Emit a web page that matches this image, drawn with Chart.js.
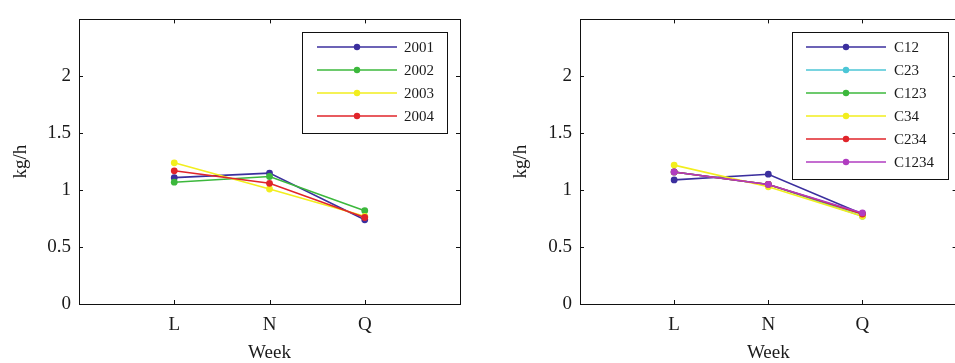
<!DOCTYPE html>
<html>
<head>
<meta charset="utf-8">
<script src="https://cdn.jsdelivr.net/npm/chart.js@4"></script>
<style>
  html, body { margin: 0; padding: 0; background: #fff; overflow: hidden; width: 955px; height: 363px; }
  .panel { position: absolute; top: 0; }
  #p1 { left: 0; }
  #p2 { left: 480px; }
</style>
</head>
<body>
<div class="panel" id="p1"><canvas id="c1" width="480" height="363"></canvas></div>
<div class="panel" id="p2"><canvas id="c2" width="480" height="363"></canvas></div>
<script>
// Data
const weeks = ['L', 'N', 'Q'];
const yTicks = [0, 0.5, 1, 1.5, 2];

const yearLabels = ['2001', '2002', '2003', '2004'];
const y2001 = [1.11, 1.15, 0.74];
const y2002 = [1.07, 1.12, 0.82];
const y2003 = [1.24, 1.01, 0.77];
const y2004 = [1.17, 1.06, 0.76];

const comboLabels = ['C12', 'C23', 'C123', 'C34', 'C234', 'C1234'];
const c12 = [1.09, 1.14, 0.79];
const c23 = [1.16, 1.05, 0.77];
const c123 = [1.16, 1.05, 0.79];
const c34 = [1.22, 1.03, 0.77];
const c234 = [1.16, 1.05, 0.79];
const c1234 = [1.16, 1.05, 0.80];

const BLUE = '#3b2f9e', GREEN = '#3cb83c', YELLOW = '#f2ee1e',
      RED = '#e0242a', CYAN = '#4cc6d6', MAGENTA = '#b03cc0';

Chart.defaults.font.family = '"Liberation Serif", "DejaVu Serif", serif';
Chart.defaults.color = '#1a1a1a';

function toPoints(values) {
  return values.map((v, i) => ({ x: i + 1, y: v }));
}

// later series are drawn on top, like matlab
function makeDataset(label, values, color, idx) {
  return {
    label: label,
    data: toPoints(values),
    order: -idx,
    borderColor: color,
    backgroundColor: color,
    borderWidth: 1.6,
    pointRadius: 3.4,
    pointHoverRadius: 3.4,
    pointBorderWidth: 0,
    tension: 0
  };
}

// Box frame with inward tick marks, matlab style
const framePlugin = {
  id: 'frame',
  beforeDatasetsDraw(chart) {
    const { ctx, chartArea: a, scales } = chart;
    ctx.save();
    ctx.strokeStyle = '#111';
    ctx.lineWidth = 1;
    ctx.strokeRect(Math.round(a.left) + 0.5, Math.round(a.top) + 0.5,
                   Math.round(a.right - a.left), Math.round(a.bottom - a.top));
    ctx.beginPath();
    scales.y.ticks.forEach(t => {
      const py = Math.round(scales.y.getPixelForValue(t.value)) + 0.5;
      ctx.moveTo(a.left, py); ctx.lineTo(a.left + 4, py);
      ctx.moveTo(a.right, py); ctx.lineTo(a.right - 4, py);
    });
    scales.x.ticks.forEach(t => {
      const px = Math.round(scales.x.getPixelForValue(t.value)) + 0.5;
      ctx.moveTo(px, a.bottom); ctx.lineTo(px, a.bottom - 4);
      ctx.moveTo(px, a.top); ctx.lineTo(px, a.top + 4);
    });
    ctx.stroke();
    ctx.restore();
  }
};

// Legend box inside the plot
const boxLegendPlugin = {
  id: 'boxLegend',
  afterDraw(chart, args, opts) {
    const { ctx } = chart;
    ctx.save();
    ctx.fillStyle = '#fff';
    ctx.fillRect(opts.x, opts.y, opts.w, opts.h);
    ctx.strokeStyle = '#111';
    ctx.lineWidth = 1;
    ctx.strokeRect(opts.x + 0.5, opts.y + 0.5, opts.w, opts.h);
    ctx.font = '15px "Liberation Serif", "DejaVu Serif", serif';
    ctx.textBaseline = 'middle';
    ctx.textAlign = 'left';
    chart.data.datasets.forEach((ds, i) => {
      const yy = opts.y + opts.firstRow + i * opts.rowH;
      ctx.strokeStyle = ds.borderColor;
      ctx.lineWidth = 1.4;
      ctx.beginPath();
      ctx.moveTo(opts.x + opts.line0, yy);
      ctx.lineTo(opts.x + opts.line1, yy);
      ctx.stroke();
      ctx.fillStyle = ds.borderColor;
      ctx.beginPath();
      ctx.arc(opts.x + (opts.line0 + opts.line1) / 2, yy, 3.2, 0, Math.PI * 2);
      ctx.fill();
      ctx.fillStyle = '#1a1a1a';
      ctx.fillText(ds.label, opts.x + opts.textX, yy + 1);
    });
    ctx.restore();
  }
};

function makeChart(canvasId, datasets, yWidth, yTitlePad, padRight, legendOpts) {
  return new Chart(document.getElementById(canvasId), {
    type: 'line',
    data: { datasets: datasets },
    options: {
      responsive: false,
      animation: false,
      layout: { padding: { top: 16, right: padRight, left: 0, bottom: 0 } },
      plugins: {
        legend: { display: false },
        tooltip: { enabled: false },
        boxLegend: legendOpts
      },
      scales: {
        x: {
          type: 'linear',
          min: 0,
          max: 4,
          grid: { display: false, drawTicks: false },
          border: { display: false },
          afterBuildTicks: s => { s.ticks = weeks.map((w, i) => ({ value: i + 1 })); },
          afterFit: s => { s.height = 59; },
          ticks: {
            padding: 10,
            font: { size: 19 },
            callback: v => weeks[v - 1]
          },
          title: {
            display: true,
            text: 'Week',
            font: { size: 19, lineHeight: 1 },
            padding: { top: 0, bottom: 0 }
          }
        },
        y: {
          min: 0,
          max: 2.5,
          grid: { display: false, drawTicks: false },
          border: { display: false },
          afterBuildTicks: s => { s.ticks = yTicks.map(v => ({ value: v })); },
          afterFit: s => { s.width = yWidth; },
          ticks: {
            padding: 8,
            font: { size: 19 },
            callback: v => String(v)
          },
          title: {
            display: true,
            text: 'kg/h',
            font: { size: 19, lineHeight: 1 },
            padding: { top: yTitlePad, bottom: 0 }
          }
        }
      }
    },
    plugins: [framePlugin, boxLegendPlugin]
  });
}

makeChart('c1', [
  makeDataset(yearLabels[0], y2001, BLUE, 0),
  makeDataset(yearLabels[1], y2002, GREEN, 1),
  makeDataset(yearLabels[2], y2003, YELLOW, 2),
  makeDataset(yearLabels[3], y2004, RED, 3)
], 79, 12, 20, { x: 302, y: 32, w: 145, h: 101, firstRow: 15, rowH: 23, line0: 15, line1: 95, textX: 102 });

makeChart('c2', [
  makeDataset(comboLabels[0], c12, BLUE, 0),
  makeDataset(comboLabels[1], c23, CYAN, 1),
  makeDataset(comboLabels[2], c123, GREEN, 2),
  makeDataset(comboLabels[3], c34, YELLOW, 3),
  makeDataset(comboLabels[4], c234, RED, 4),
  makeDataset(comboLabels[5], c1234, MAGENTA, 5)
], 100, 32, 1, { x: 312, y: 32, w: 156, h: 147, firstRow: 15, rowH: 23, line0: 14, line1: 94, textX: 102 });
</script>
</body>
</html>
